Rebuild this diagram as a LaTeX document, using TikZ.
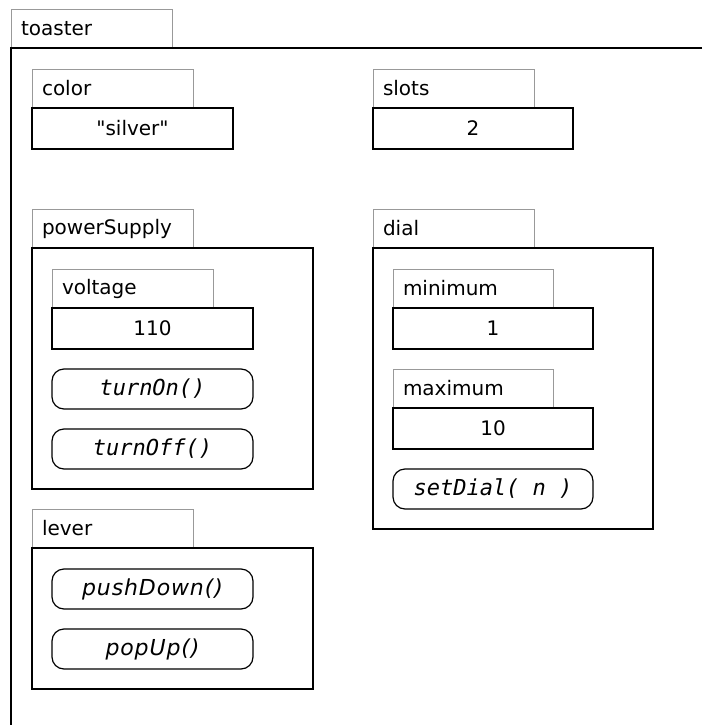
\documentclass[tikz,border=0pt]{standalone}
\usepackage{fontspec}
\setmainfont{DejaVu Sans}[Ligatures=TeXOff]
\setmonofont{DejaVu Sans Mono}
\usetikzlibrary{positioning}

\tikzset{
  lbl/.style={draw=gray!80,line width=0.7pt,outer sep=0pt,anchor=north west,
    minimum height=39pt,text width=141pt,inner xsep=10pt,inner ysep=0pt,
    align=left,font=\fontsize{20}{22}\selectfont},
  val/.style={draw,line width=1.4pt,outer sep=0pt,anchor=north west,
    minimum width=201pt,minimum height=41pt,inner sep=0pt,
    font=\fontsize{20}{22}\selectfont},
  meth/.style={draw,line width=1.2pt,rounded corners=12pt,outer sep=0pt,
    anchor=north west,minimum width=201pt,minimum height=40pt,inner sep=0pt,
    font=\fontsize{22}{24}\selectfont\ttfamily\itshape},
  methsf/.style={meth,font=\fontsize{22}{24}\selectfont\itshape\addfontfeature{LetterSpace=4}},
  frame/.style={draw,line width=1.4pt,outer sep=0pt,anchor=north west,inner sep=0pt}
}

\begin{document}
\begin{tikzpicture}[x=1pt,y=-1pt]
    \fill[white] (0,0) rectangle (702,725);
    \useasboundingbox (0,0) rectangle (702,725);
    % toaster
    \node[lbl] (toasterTab) at (11,9) {toaster};
    \draw[line width=1.4pt] (702,48) -- (toasterTab.south west) -- (11,725);
    % color, slots
    \node[lbl] (colorTab) at (32,69) {color};
    \node[val] (colorVal) at (colorTab.south west) {"silver"};
    \node[lbl] (slotsTab) at (373,69) {slots};
    \node[val,minimum width=200pt] (slotsVal) at (slotsTab.south west) {2};
    % powerSupply
    \node[lbl] (powerTab) at (32,209) {powerSupply};
    \node[frame,minimum width=281pt,minimum height=241pt] (powerBox) at (powerTab.south west) {};
    \node[lbl] (voltageTab) at (52,269) {voltage};
    \node[val] (voltageVal) at (voltageTab.south west) {110};
    \node[meth] (turnOn) at (52,369) {turnOn()};
    \node[meth] (turnOff) at (52,429) {turnOff()};
    % lever
    \node[lbl] (leverTab) at (32,509) {lever};
    \node[frame,minimum width=281pt,minimum height=141pt] (leverBox) at (leverTab.south west) {};
    \node[methsf] (pushDown) at (52,569) {pushDown()};
    \node[methsf] (popUp) at (52,629) {popUp()};
    % dial
    \node[lbl] (dialTab) at (373,209) {dial};
    \node[frame,minimum width=280pt,minimum height=281pt] (dialBox) at (dialTab.south west) {};
    \node[lbl,text width=140pt] (minTab) at (393,269) {minimum};
    \node[val,minimum width=200pt] (minVal) at (minTab.south west) {1};
    \node[lbl,text width=140pt] (maxTab) at (393,369) {maximum};
    \node[val,minimum width=200pt] (maxVal) at (maxTab.south west) {10};
    \node[meth,minimum width=200pt] (setDial) at (393,469) {setDial( n )};
\end{tikzpicture}
\end{document}
